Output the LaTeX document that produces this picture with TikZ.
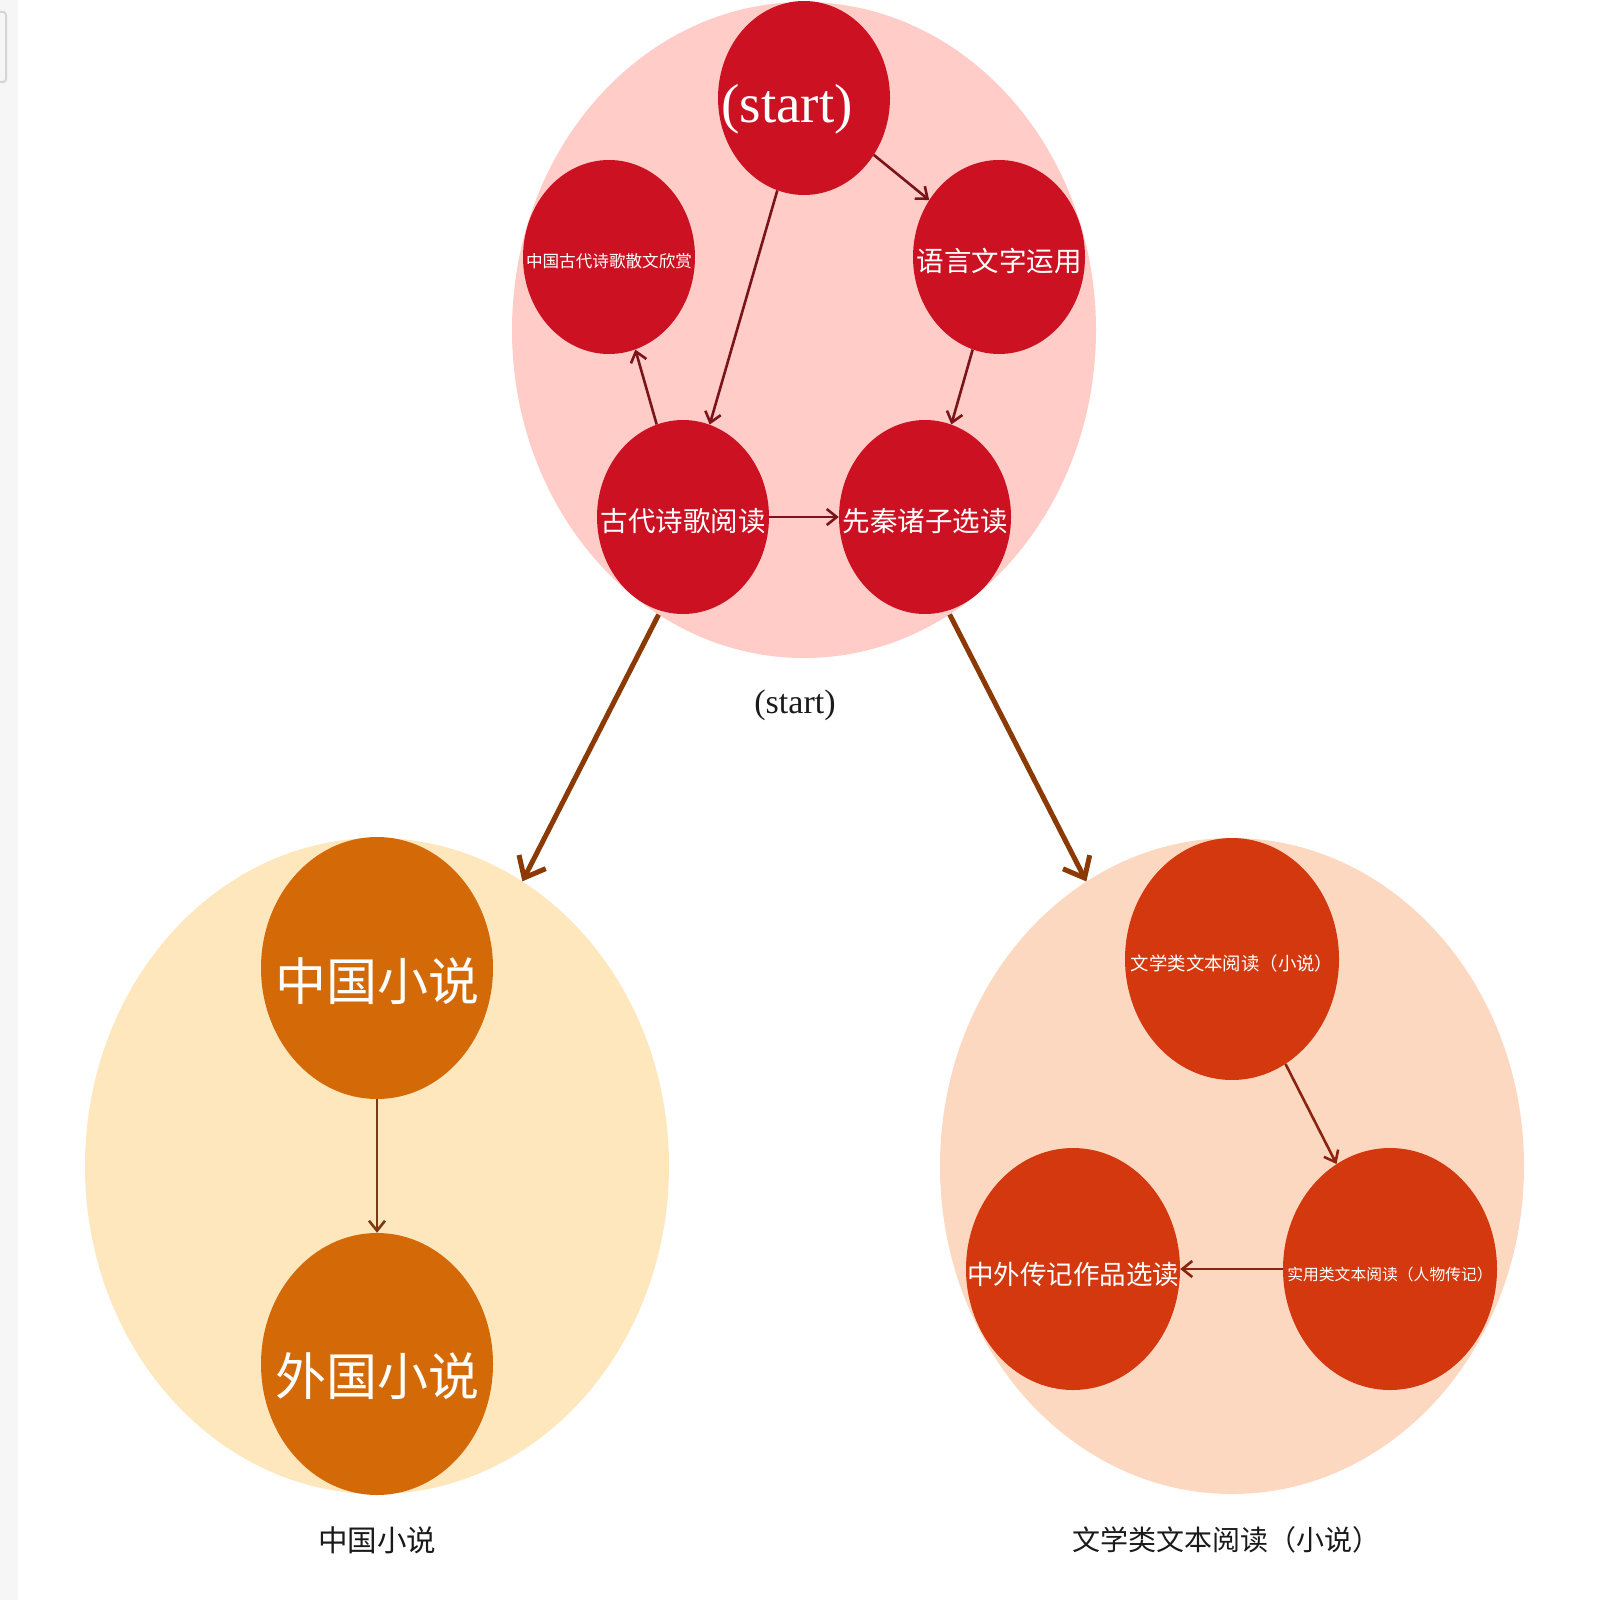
\documentclass[tikz,border=0pt]{standalone}
\usepackage{fontspec}
\usetikzlibrary{shapes.geometric,arrows.meta}
\newfontfamily\cjk{Noto Sans CJK SC}
\newfontfamily\serifA{Liberation Serif}
\definecolor{pinkbg}{HTML}{FFCCC8}
\definecolor{nodered}{HTML}{CC1222}
\definecolor{leftbg}{HTML}{FEE6BD}
\definecolor{nodeorange}{HTML}{D46907}
\definecolor{rightbg}{HTML}{FDD8C0}
\definecolor{noderust}{HTML}{D3380E}
\definecolor{arrowbrown}{HTML}{8B3A06}
\definecolor{edgered}{HTML}{7A1418}
\definecolor{edgebrown}{HTML}{7A3A12}
\definecolor{edgerust}{HTML}{8A2410}
\definecolor{stripgrey}{HTML}{F6F6F6}
\definecolor{boxgrey}{HTML}{D5D5D5}
\definecolor{labeltext}{HTML}{1A1A1A}
\begin{document}
\begin{tikzpicture}[x=1pt,y=-1pt,
  cluster/.style={ellipse,draw=none,minimum width=584pt,minimum height=656pt,inner sep=0pt},
  rednode/.style={ellipse,fill=nodered,minimum width=172pt,minimum height=194pt,inner sep=0pt},
  orangenode/.style={ellipse,fill=nodeorange,minimum width=232pt,minimum height=262pt,inner sep=0pt},
  rustnode/.style={ellipse,fill=noderust,minimum width=214pt,minimum height=242pt,inner sep=0pt},
  wtxt/.style={text=white,inner sep=0pt},
  captxt/.style={text=labeltext,inner sep=0pt},
  bigarrow/.style={draw=arrowbrown,line width=5pt,-{Straight Barb[length=18pt,width=30pt]}},
  redarrow/.style={draw=edgered,line width=2.6pt,-{Straight Barb[length=10pt,width=16pt]}},
  brownarrow/.style={draw=edgebrown,line width=2.6pt,-{Straight Barb[length=10pt,width=16pt]}},
  rustarrow/.style={draw=edgerust,line width=2.6pt,-{Straight Barb[length=10pt,width=16pt]}}
]
\useasboundingbox (0,0) rectangle (1600,1600);
\fill[white] (0,0) rectangle (1600,1600);
% left strip of the screenshot
\fill[stripgrey] (0,0) rectangle (18,1600);
\draw[boxgrey,line width=2pt,rounded corners=3pt] (-8,12) rectangle (6,82);

% clusters
\node[cluster,fill=pinkbg] (pinkC) at (804,330) {};
\node[cluster,fill=leftbg] (leftC) at (377,1166) {};
\node[cluster,fill=rightbg] (rightC) at (1232,1166) {};

% cluster captions
\node[captxt,font=\serifA\fontsize{34}{38}\selectfont] (capStart) at (795,705) {(start)};
\node[captxt,font=\cjk\fontsize{29.5}{32}\selectfont] (capLeft) at (377,1540) {中国小说};
\node[captxt,font=\cjk\fontsize{28}{32}\selectfont] (capRight) at (1226,1540) {文学类文本阅读（小说）};

% cluster-to-cluster edges
\draw[bigarrow] (pinkC) -- (leftC);
\draw[bigarrow] (pinkC) -- (rightC);

% top cluster nodes
\node[rednode,label={[wtxt,xshift=-17pt,yshift=-11pt,font=\serifA\fontsize{55}{60}\selectfont]center:(start)}] (start) at (804,98) {};
\node[rednode,label={[wtxt,yshift=-4pt,font=\cjk\fontsize{16.6}{18}\selectfont]center:中国古代诗歌散文欣赏}] (gudaiS) at (609,257) {};
\node[rednode,label={[wtxt,yshift=-4pt,font=\cjk\fontsize{27.5}{30}\selectfont]center:语言文字运用}] (yuyan) at (999,257) {};
\node[rednode,label={[wtxt,yshift=-4pt,font=\cjk\fontsize{27.5}{30}\selectfont]center:古代诗歌阅读}] (gudaiR) at (683,517) {};
\node[rednode,label={[wtxt,yshift=-4pt,font=\cjk\fontsize{27.5}{30}\selectfont]center:先秦诸子选读}] (xianqin) at (925,517) {};

\draw[redarrow] (start) -- (yuyan);
\draw[redarrow] (start) -- (gudaiR);
\draw[redarrow] (yuyan) -- (xianqin);
\draw[redarrow] (gudaiR) -- (gudaiS);
\draw[redarrow] (gudaiR) -- (xianqin);

% left cluster nodes
\node[orangenode,label={[wtxt,yshift=-13pt,font=\cjk\fontsize{51}{56}\selectfont]center:中国小说}] (zgxs) at (377,968) {};
\node[orangenode,label={[wtxt,yshift=-12pt,font=\cjk\fontsize{51}{56}\selectfont]center:外国小说}] (wgxs) at (377,1364) {};
\draw[brownarrow] (zgxs) -- (wgxs);

% right cluster nodes
\node[rustnode,label={[wtxt,yshift=-4pt,font=\cjk\fontsize{18.4}{20}\selectfont]center:文学类文本阅读（小说）}] (wenxue) at (1232,959) {};
\node[rustnode,label={[wtxt,yshift=-5pt,font=\cjk\fontsize{26.5}{29}\selectfont]center:中外传记作品选读}] (zhongwai) at (1073,1269) {};
\node[rustnode,label={[wtxt,yshift=-5pt,font=\cjk\fontsize{15.8}{18}\selectfont]center:实用类文本阅读（人物传记）}] (shiyong) at (1390,1269) {};
\draw[rustarrow] (wenxue) -- (shiyong);
\draw[rustarrow] (shiyong) -- (zhongwai);
\end{tikzpicture}
\end{document}
